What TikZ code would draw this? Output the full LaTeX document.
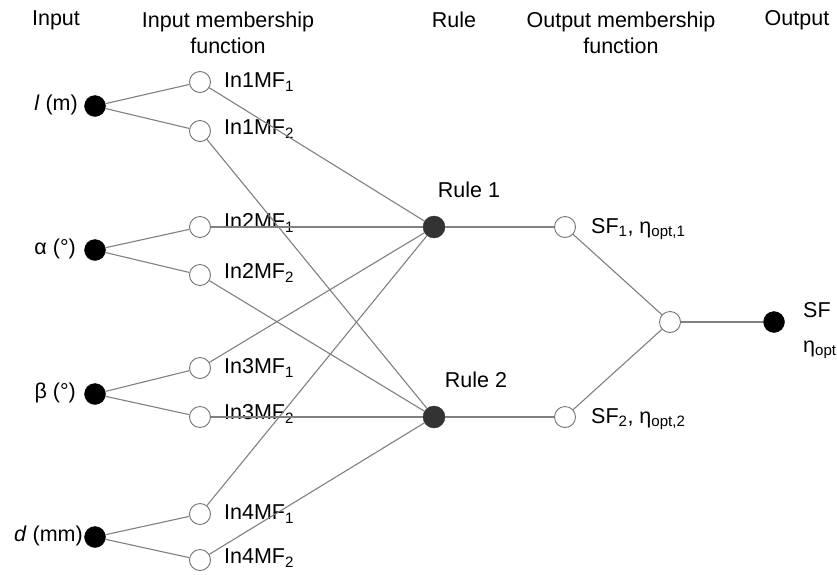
\documentclass[tikz,border=0pt]{standalone}
\usepackage{fontspec}
\setmainfont{Liberation Sans}
\begin{document}
\begin{tikzpicture}[x=1pt,y=-1pt,
  every node/.style={font=\fontsize{21.5}{26}\selectfont},
  inp/.style={circle,fill=black,draw=black,minimum size=21pt,inner sep=0pt},
  mf/.style={circle,fill=white,draw=black!55,line width=0.9pt,minimum size=21pt,inner sep=0pt},
  rule/.style={circle,fill=black!80,draw=black!80,minimum size=22pt,inner sep=0pt},
  lab/.style={anchor=west,inner sep=0pt},
  conn/.style={draw=black!50,line width=1.1pt}]
\useasboundingbox (0,0) rectangle (837,574);
% headers
\node (h1) at (56,20) {Input};
\node[align=center] (h2) at (228,33) {Input membership\\function};
\node (h3) at (454,20) {Rule};
\node[align=center] (h4) at (621,33) {Output membership\\function};
\node (h5) at (797,20) {Output};
% inputs
\node[inp] (i1) at (95,106) {};
\node[inp] (i2) at (95,250) {};
\node[inp] (i3) at (95,394) {};
\node[inp] (i4) at (95,537) {};
\node[anchor=east,inner sep=0pt] (li1) at (78,105) {\textit{l} (m)};
\node[anchor=east,inner sep=0pt] (li2) at (76,249) {α (°)};
\node[anchor=east,inner sep=0pt] (li3) at (76,393) {β (°)};
\node[anchor=east,inner sep=0pt] (li4) at (83,536) {\textit{d} (mm)};
% MFs
\node[mf] (m11) at (200,82) {};
\node[mf] (m12) at (200,131) {};
\node[mf] (m21) at (200,227) {};
\node[mf] (m22) at (200,275) {};
\node[mf] (m31) at (200,368) {};
\node[mf] (m32) at (200,417) {};
\node[mf] (m41) at (200,514) {};
\node[mf] (m42) at (200,560) {};
\node[lab] (l11) at (224,82) {In1MF\textsubscript{1}};
\node[lab] (l12) at (224,129) {In1MF\textsubscript{2}};
\node[lab] (l21) at (224,223) {In2MF\textsubscript{1}};
\node[lab] (l22) at (224,273) {In2MF\textsubscript{2}};
\node[lab] (l31) at (224,368) {In3MF\textsubscript{1}};
\node[lab] (l32) at (224,414) {In3MF\textsubscript{2}};
\node[lab] (l41) at (224,514) {In4MF\textsubscript{1}};
\node[lab] (l42) at (224,558) {In4MF\textsubscript{2}};
% rules
\node[rule] (r1) at (434,227) {};
\node[rule] (r2) at (434,417) {};
\node (lr1) at (469,190) {Rule 1};
\node (lr2) at (476,380) {Rule 2};
% output MFs
\node[mf] (o1) at (565,227) {};
\node[mf] (o2) at (565,417) {};
\node[lab] (lo1) at (591,229) {SF\textsubscript{1}, η\textsubscript{opt,1}};
\node[lab] (lo2) at (591,419) {SF\textsubscript{2}, η\textsubscript{opt,2}};
\node[mf] (c) at (670,322) {};
\node[inp] (out) at (774,322) {};
\node[lab] (lout1) at (803,310) {SF};
\node[lab] (lout2) at (803,350) {η\textsubscript{opt}};
% connectors
\draw[conn] (i1) -- (m11); \draw[conn] (i1) -- (m12);
\draw[conn] (i2) -- (m21); \draw[conn] (i2) -- (m22);
\draw[conn] (i3) -- (m31); \draw[conn] (i3) -- (m32);
\draw[conn] (i4) -- (m41); \draw[conn] (i4) -- (m42);
\draw[conn] (m11) -- (r1); \draw[conn] (m21) -- (r1);
\draw[conn] (m31) -- (r1); \draw[conn] (m41) -- (r1);
\draw[conn] (m12) -- (r2); \draw[conn] (m22) -- (r2);
\draw[conn] (m32) -- (r2); \draw[conn] (m42) -- (r2);
\draw[conn] (r1) -- (o1); \draw[conn] (r2) -- (o2);
\draw[conn] (o1) -- (c); \draw[conn] (o2) -- (c);
\draw[conn] (c) -- (out);
\end{tikzpicture}
\end{document}
